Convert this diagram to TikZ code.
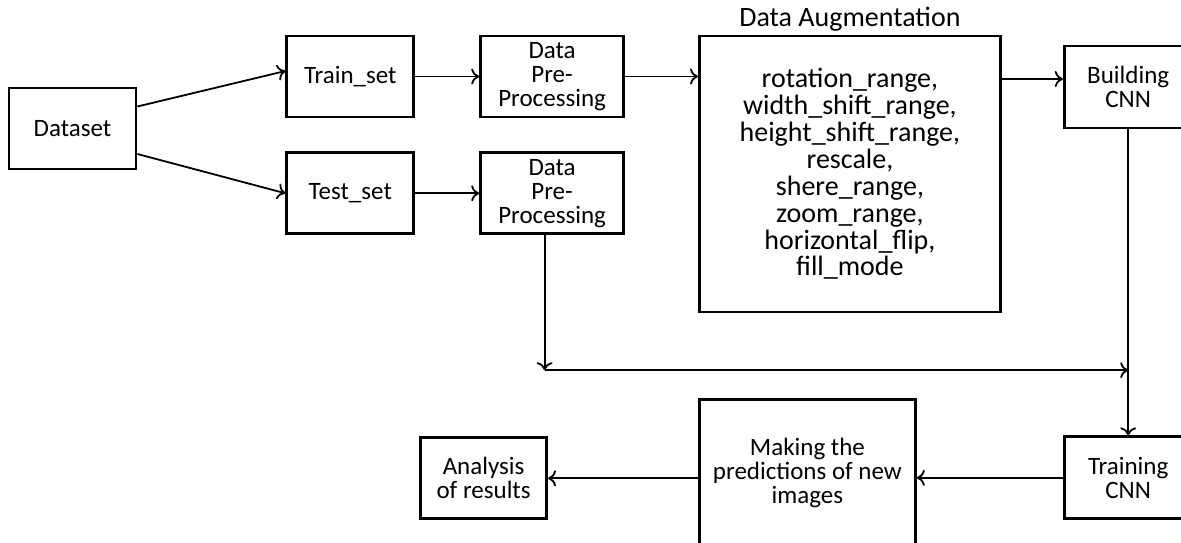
\documentclass[tikz,border=0pt]{standalone}
\usepackage{fontspec}
\setmainfont{Carlito}
\usetikzlibrary{positioning, arrows.meta}

\begin{document}
\begin{tikzpicture}[
    >={To[length=4pt,width=8pt]},
    block/.style={rectangle, draw=black, line width=1.4pt, align=center,
                  minimum width=63.5pt, minimum height=40.5pt, inner sep=2pt,
                  font=\fontsize{12.5}{12}\selectfont},
    link/.style={->, line width=0.9pt}]
\useasboundingbox (-36.25pt,-206.75pt) rectangle (554.25pt,64.25pt);
\clip (-36.25pt,-206.75pt) rectangle (554.25pt,64.25pt);

\node[block] (data) at (0,0) {Dataset};
\node[block, right=74pt of data, yshift=26pt] (trainset) {Train\_set};
\node[block, below=16.5pt of trainset] (testset) {Test\_set};
\node[block, minimum width=71.5pt, right=32pt of trainset] (pre1) {Data\\Pre-\\Processing};
\node[block, minimum width=71.5pt, right=32pt of testset] (pre2) {Data\\Pre-\\Processing};
\node[block, minimum width=150.5pt, minimum height=138pt, font=\fontsize{14}{13.45}\selectfont,
      right=36.5pt of pre1.north east, anchor=north west] (aug)
      {rotation\_range,\\width\_shift\_range,\\height\_shift\_range,\\rescale,\\shere\_range,\\zoom\_range,\\horizontal\_flip,\\fill\_mode};
\node[above=-2pt of aug, font=\fontsize{14}{14}\selectfont] (augtitle) {Data Augmentation};
\node[block, minimum width=64pt, minimum height=41pt, right=30.5pt of aug.north east,
      anchor=north west, yshift=-5pt] (build) {Building\\CNN};
\node[block, minimum width=64pt, minimum height=41pt, below=153pt of build] (traincnn) {Training\\CNN};
\node[block, minimum width=108pt, minimum height=73pt, left=73pt of traincnn, yshift=2.5pt] (pred)
      {Making the\\predictions of new\\images};
\node[block, minimum width=63pt, left=75pt of pred, yshift=-2.75pt] (analysis) {Analysis\\of results};

% split of the dataset
\draw[link] ([yshift=11pt]data.east) -- ([yshift=2.75pt]trainset.west);
\draw[link] ([yshift=-12.75pt]data.east) -- (testset.west);
\draw[link] (trainset) -- (pre1);
\draw[link] (testset) -- (pre2);
\draw[link] (pre1.east) -- (pre1.east -| aug.west);
\draw[link] ([yshift=4pt]build.west -| aug.east) -- ([yshift=4pt]build.west);

% test data joins the training step
\coordinate (drop) at ([xshift=-3.75pt, yshift=-67.5pt]pre2.south);
\coordinate (merge) at (drop -| build.south);
\draw[link] ([xshift=-3.75pt]pre2.south) -- (drop);
\draw[link] (drop) -- (merge);
\draw[link] (build) -- (traincnn);
\draw[link] (traincnn.west) -- (traincnn.west -| pred.east);
\draw[link] (analysis.east -| pred.west) -- (analysis.east);
\end{tikzpicture}
\end{document}
